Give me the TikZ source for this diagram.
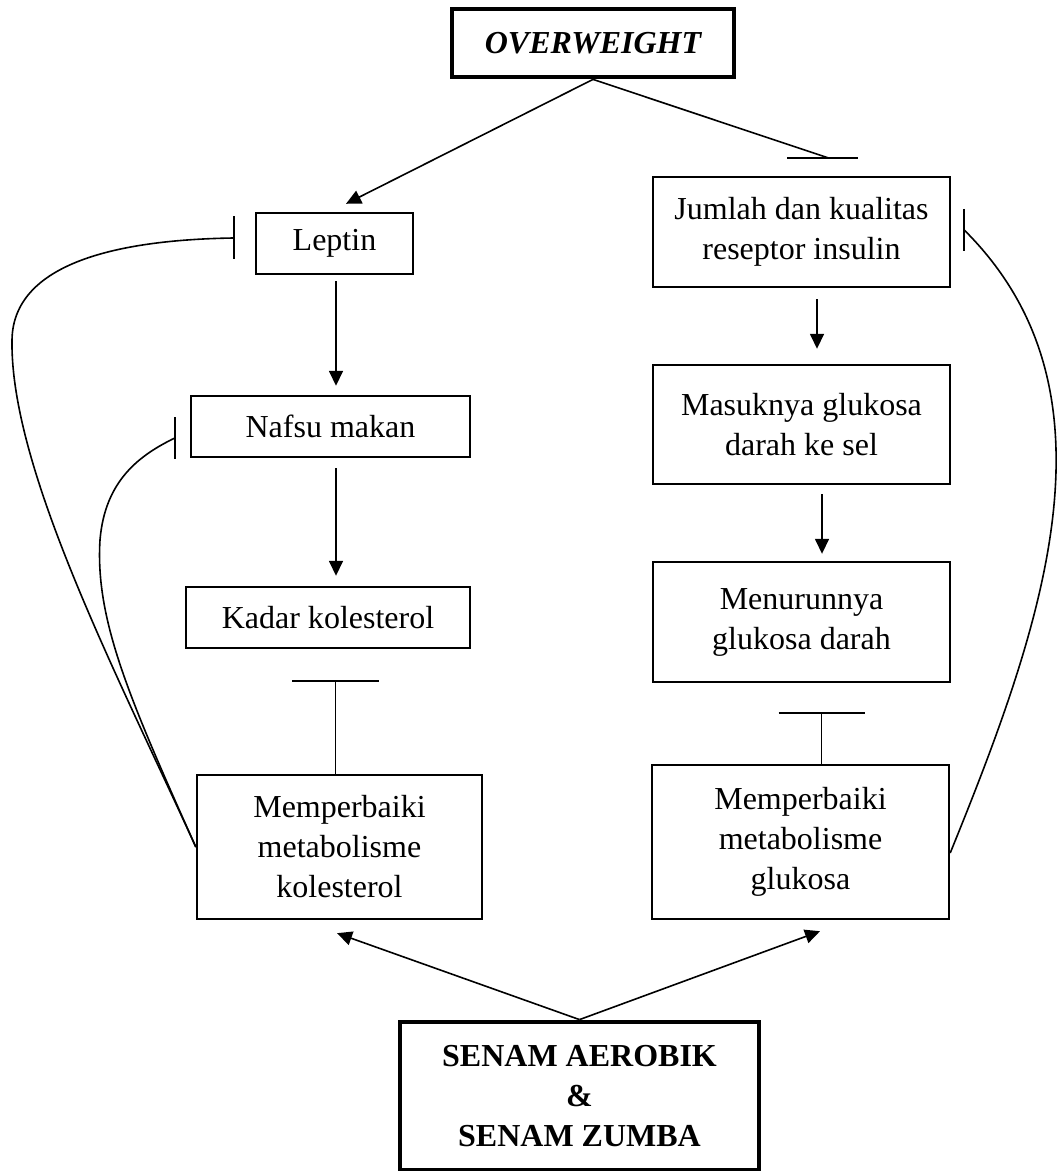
\documentclass[tikz,border=0pt]{standalone}
\usepackage{fontspec}
\setmainfont{Liberation Serif}
\usetikzlibrary{arrows.meta}
\tikzset{
  kotak/.style={draw, line width=1.2pt, align=center, inner sep=2pt, font=\fontsize{16}{20}\selectfont},
  kotaktebal/.style={kotak, line width=2.4pt, font=\fontsize{16}{20}\selectfont\bfseries},
  panah/.style={-{Triangle[length=7.5pt,width=7pt]}},
}
\begin{document}
\begin{tikzpicture}[x=0.5pt,y=-0.5pt,line width=0.8pt]
\useasboundingbox (0,0) rectangle (1058,1171);
% kotak
\node[kotaktebal, minimum width=141pt, minimum height=34pt] (over) at (593,43) {\itshape OVERWEIGHT};
\node[kotak, minimum width=78.5pt, minimum height=30.5pt] (leptin) at (334.5,243.5) {Leptin};
\node[kotak, minimum width=139.5pt, minimum height=30.5pt] (nafsu) at (330.5,426.5) {Nafsu makan};
\node[kotak, minimum width=142pt, minimum height=30.5pt] (kadar) at (328,617.5) {Kadar kolesterol};
\node[kotak, minimum width=142.5pt, minimum height=72pt] (mkol) at (339.5,847) {Memperbaiki\\metabolisme\\kolesterol};
\node[kotak, minimum width=148.5pt, minimum height=55pt] (jumlah) at (801.5,232) {Jumlah dan kualitas\\reseptor insulin};
\node[kotak, minimum width=148.5pt, minimum height=59.5pt] (masuk) at (801.5,424.5) {Masuknya glukosa\\darah ke sel};
\node[kotak, minimum width=148.5pt, minimum height=60pt] (turun) at (801.5,622) {Menurunnya\\glukosa darah};
\node[kotak, minimum width=148.5pt, minimum height=77pt] (mglu) at (800.5,842) {Memperbaiki\\metabolisme\\glukosa};
\node[kotaktebal, minimum width=179.5pt, minimum height=74pt] (senam) at (579.5,1096) {SENAM AEROBIK\\\&\\SENAM ZUMBA};
% titik hambat
\coordinate (hJum) at ([shift={(26.5,-18)}]jumlah.north);
\coordinate (hLep) at ([shift={(-21,-5.5)}]leptin.west);
\coordinate (hNaf) at ([shift={(-15,11.5)}]nafsu.west);
\coordinate (hKanan) at ([shift={(13,-2)}]jumlah.east);
\coordinate (hKad) at ([shift={(-4,-93)}]mkol.north);
\coordinate (hTur) at ([shift={(21,-51)}]mglu.north);
% panah
\draw[panah] (over.south) -- ([shift={(11.5,-8)}]leptin.north);
\draw[panah] ([shift={(1.5,6)}]leptin.south) -- ([shift={(5.5,-9)}]nafsu.north);
\draw[panah] ([shift={(5.5,10)}]nafsu.south) -- ([shift={(8,-10)}]kadar.north);
\draw[panah] ([shift={(15.5,11)}]jumlah.south) -- ([shift={(15.5,-15)}]masuk.north);
\draw[panah] ([shift={(20.5,9)}]masuk.south) -- ([shift={(20.5,-7)}]turun.north);
\draw[panah] (senam.north) -- ([shift={(-2.5,13)}]mkol.south);
\draw[panah] (senam.north) -- ([shift={(19.5,11)}]mglu.south);
% hambatan
\draw (over.south) -- (hJum);
\draw ([xshift=-20.5pt]hJum) -- ([xshift=15pt]hJum);
\draw (hKad |- mkol.north) -- (hKad);
\draw ([xshift=-21.75pt]hKad) -- ([xshift=21.75pt]hKad);
\draw (hTur |- mglu.north) -- (hTur);
\draw ([xshift=-21.5pt]hTur) -- ([xshift=21.5pt]hTur);
\draw (mkol.west) .. controls (120,680) and (10,470) .. (12,340) .. controls (13,270) and (100,240) .. (hLep);
\draw ([yshift=10.75pt]hLep) -- ([yshift=-10.75pt]hLep);
\draw (mkol.west) .. controls (130,700) and (95,620) .. (100,540) .. controls (105,480) and (140,455) .. (hNaf);
\draw ([yshift=10.5pt]hNaf) -- ([yshift=-10.5pt]hNaf);
\draw ([yshift=-5.5pt]mglu.east) .. controls (1045,620) and (1125,390) .. (hKanan);
\draw ([yshift=10.5pt]hKanan) -- ([yshift=-10.5pt]hKanan);
\end{tikzpicture}
\end{document}
